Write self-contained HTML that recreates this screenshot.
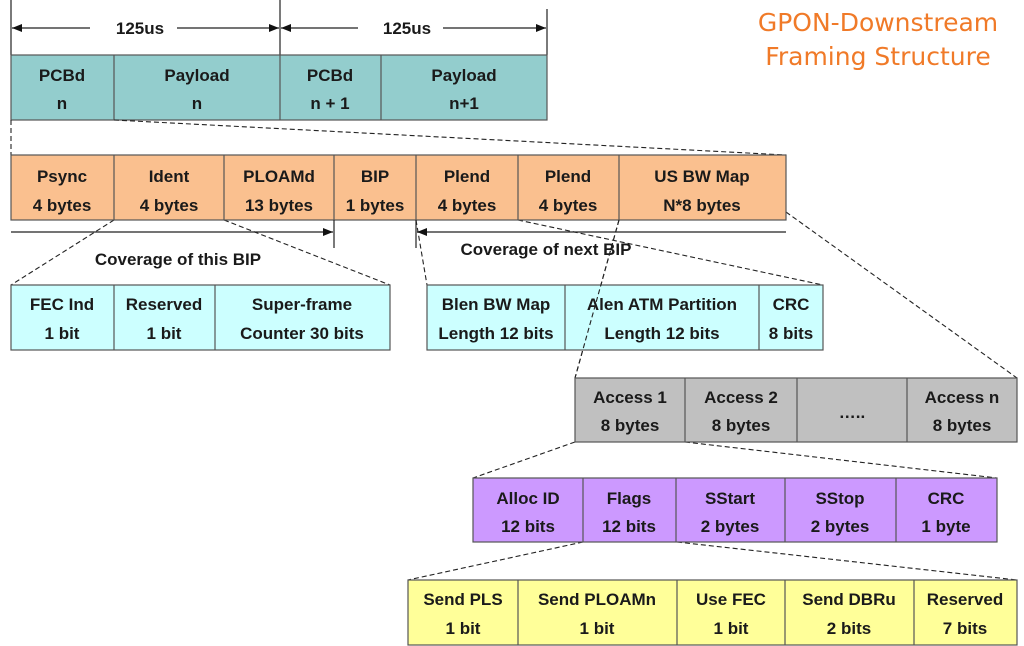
<!DOCTYPE html>
<html><head><meta charset="utf-8"><style>
html,body{margin:0;padding:0;background:#fff;}
svg{display:block;}
.t{font-family:"Liberation Sans",Arial,sans-serif;font-weight:bold;font-size:17px;fill:#1a1a1a;text-anchor:middle;}
.b{stroke:#555;stroke-width:1.2;}
.d{stroke:#222;stroke-width:1.1;stroke-dasharray:5,3;fill:none;}
.l{stroke:#222;stroke-width:1.2;fill:none;}
</style></head><body>
<svg width="1024" height="646" viewBox="0 0 1024 646" xmlns="http://www.w3.org/2000/svg">
<defs>
<marker id="ar" markerWidth="10" markerHeight="8" refX="10" refY="4" orient="auto" markerUnits="userSpaceOnUse"><path d="M0,0 L10,4 L0,8 z" fill="#111"/></marker>
</defs>
<rect width="1024" height="646" fill="#fff"/>

<text x="878" y="31" font-family="'Comic Sans MS','DejaVu Sans',sans-serif" font-size="25" fill="#F07A28" text-anchor="middle">GPON-Downstream</text>
<text x="878" y="65" font-family="'Comic Sans MS','DejaVu Sans',sans-serif" font-size="25" fill="#F07A28" text-anchor="middle">Framing Structure</text>

<line class="l" x1="11" y1="0" x2="11" y2="55"/>
<line class="l" x1="280" y1="0" x2="280" y2="55"/>
<line class="l" x1="547" y1="9" x2="547" y2="55"/>
<line class="l" x1="90" y1="28" x2="12" y2="28" marker-end="url(#ar)"/>
<line class="l" x1="177" y1="28" x2="279" y2="28" marker-end="url(#ar)"/>
<line class="l" x1="358" y1="28" x2="281" y2="28" marker-end="url(#ar)"/>
<line class="l" x1="443" y1="28" x2="546" y2="28" marker-end="url(#ar)"/>
<text class="t" x="140" y="34">125us</text>
<text class="t" x="407" y="34">125us</text>

<rect class="b" x="11" y="55" width="536" height="65" fill="#93CDCD"/>
<line class="b" x1="114" y1="55" x2="114" y2="120"/>
<line class="b" x1="280" y1="55" x2="280" y2="120"/>
<line class="b" x1="381" y1="55" x2="381" y2="120"/>
<text class="t" x="62" y="81">PCBd</text><text class="t" x="62" y="109">n</text>
<text class="t" x="197" y="81">Payload</text><text class="t" x="197" y="109">n</text>
<text class="t" x="330" y="81">PCBd</text><text class="t" x="330" y="109">n + 1</text>
<text class="t" x="464" y="81">Payload</text><text class="t" x="464" y="109">n+1</text>

<line class="d" x1="11" y1="120" x2="11" y2="155"/>
<line class="d" x1="114" y1="120" x2="786" y2="155"/>
<line class="d" x1="114" y1="220" x2="11" y2="285"/>
<line class="d" x1="224" y1="220" x2="390" y2="285"/>
<line class="d" x1="416" y1="220" x2="427" y2="285"/>
<line class="d" x1="518" y1="220" x2="823" y2="285"/>
<line class="d" x1="619" y1="220" x2="575" y2="378"/>
<line class="d" x1="786" y1="212" x2="1017" y2="378"/>
<line class="d" x1="575" y1="442" x2="473" y2="478"/>
<line class="d" x1="685" y1="442" x2="997" y2="478"/>
<line class="d" x1="583" y1="542" x2="408" y2="580"/>
<line class="d" x1="677" y1="542" x2="1017" y2="580"/>

<rect class="b" x="11" y="155" width="775" height="65" fill="#FAC08F"/>
<line class="b" x1="114" y1="155" x2="114" y2="220"/>
<line class="b" x1="224" y1="155" x2="224" y2="220"/>
<line class="b" x1="334" y1="155" x2="334" y2="220"/>
<line class="b" x1="416" y1="155" x2="416" y2="220"/>
<line class="b" x1="518" y1="155" x2="518" y2="220"/>
<line class="b" x1="619" y1="155" x2="619" y2="220"/>
<text class="t" x="62" y="182">Psync</text><text class="t" x="62" y="211">4 bytes</text>
<text class="t" x="169" y="182">Ident</text><text class="t" x="169" y="211">4 bytes</text>
<text class="t" x="279" y="182">PLOAMd</text><text class="t" x="279" y="211">13 bytes</text>
<text class="t" x="375" y="182">BIP</text><text class="t" x="375" y="211">1 bytes</text>
<text class="t" x="467" y="182">Plend</text><text class="t" x="467" y="211">4 bytes</text>
<text class="t" x="568" y="182">Plend</text><text class="t" x="568" y="211">4 bytes</text>
<text class="t" x="702" y="182">US BW Map</text><text class="t" x="702" y="211">N*8 bytes</text>

<line class="l" x1="11" y1="232" x2="333" y2="232" marker-end="url(#ar)"/>
<line class="l" x1="334" y1="220" x2="334" y2="248"/>
<line class="l" x1="786" y1="232" x2="417" y2="232" marker-end="url(#ar)"/>
<line class="l" x1="416" y1="220" x2="416" y2="248"/>
<text class="t" x="178" y="265">Coverage of this BIP</text>
<text class="t" x="546" y="255">Coverage of next BIP</text>

<rect class="b" x="11" y="285" width="379" height="65" fill="#CCFFFF"/>
<line class="b" x1="114" y1="285" x2="114" y2="350"/>
<line class="b" x1="215" y1="285" x2="215" y2="350"/>
<text class="t" x="62" y="310">FEC Ind</text><text class="t" x="62" y="339">1 bit</text>
<text class="t" x="164" y="310">Reserved</text><text class="t" x="164" y="339">1 bit</text>
<text class="t" x="302" y="310">Super-frame</text><text class="t" x="302" y="339">Counter 30 bits</text>

<rect class="b" x="427" y="285" width="396" height="65" fill="#CCFFFF"/>
<line class="b" x1="565" y1="285" x2="565" y2="350"/>
<line class="b" x1="759" y1="285" x2="759" y2="350"/>
<text class="t" x="496" y="310">Blen BW Map</text><text class="t" x="496" y="339">Length 12 bits</text>
<text class="t" x="662" y="310">Alen ATM Partition</text><text class="t" x="662" y="339">Length 12 bits</text>
<text class="t" x="791" y="310">CRC</text><text class="t" x="791" y="339">8 bits</text>
<line class="d" x1="619" y1="220" x2="575" y2="378"/>

<rect class="b" x="575" y="378" width="442" height="64" fill="#C0C0C0"/>
<line class="b" x1="685" y1="378" x2="685" y2="442"/>
<line class="b" x1="797" y1="378" x2="797" y2="442"/>
<line class="b" x1="907" y1="378" x2="907" y2="442"/>
<text class="t" x="630" y="403">Access 1</text><text class="t" x="630" y="431">8 bytes</text>
<text class="t" x="741" y="403">Access 2</text><text class="t" x="741" y="431">8 bytes</text>
<text class="t" x="852" y="418">…..</text>
<text class="t" x="962" y="403">Access n</text><text class="t" x="962" y="431">8 bytes</text>

<rect class="b" x="473" y="478" width="524" height="64" fill="#CC99FF"/>
<line class="b" x1="583" y1="478" x2="583" y2="542"/>
<line class="b" x1="676" y1="478" x2="676" y2="542"/>
<line class="b" x1="785" y1="478" x2="785" y2="542"/>
<line class="b" x1="896" y1="478" x2="896" y2="542"/>
<text class="t" x="528" y="504">Alloc ID</text><text class="t" x="528" y="532">12 bits</text>
<text class="t" x="629" y="504">Flags</text><text class="t" x="629" y="532">12 bits</text>
<text class="t" x="730" y="504">SStart</text><text class="t" x="730" y="532">2 bytes</text>
<text class="t" x="840" y="504">SStop</text><text class="t" x="840" y="532">2 bytes</text>
<text class="t" x="946" y="504">CRC</text><text class="t" x="946" y="532">1 byte</text>

<rect class="b" x="408" y="580" width="609" height="65" fill="#FFFF99"/>
<line class="b" x1="518" y1="580" x2="518" y2="645"/>
<line class="b" x1="677" y1="580" x2="677" y2="645"/>
<line class="b" x1="785" y1="580" x2="785" y2="645"/>
<line class="b" x1="914" y1="580" x2="914" y2="645"/>
<text class="t" x="463" y="605">Send PLS</text><text class="t" x="463" y="634">1 bit</text>
<text class="t" x="597" y="605">Send PLOAMn</text><text class="t" x="597" y="634">1 bit</text>
<text class="t" x="731" y="605">Use FEC</text><text class="t" x="731" y="634">1 bit</text>
<text class="t" x="849" y="605">Send DBRu</text><text class="t" x="849" y="634">2 bits</text>
<text class="t" x="965" y="605">Reserved</text><text class="t" x="965" y="634">7 bits</text>
</svg>
</body></html>
